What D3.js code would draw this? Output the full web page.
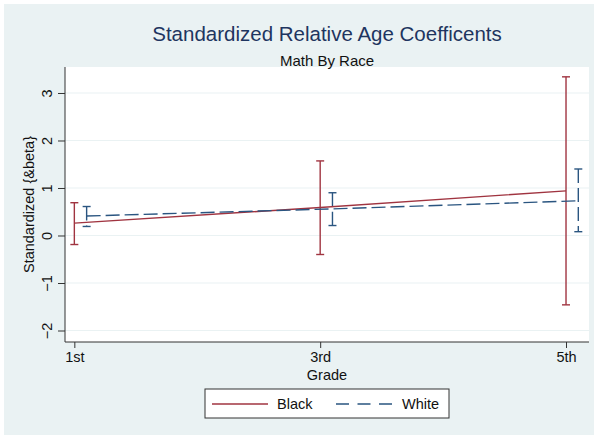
<!DOCTYPE html>
<html><head><meta charset="utf-8">
<script src="https://cdn.jsdelivr.net/npm/d3@7"></script>
<style>body{margin:0;background:#fff}svg{display:block;font-family:"Liberation Sans",Arial,sans-serif}</style>
</head><body><svg id="c" width="598" height="439"></svg>
<script>
const grades = [1, 3, 5];
const gradeLabels = ["1st", "3rd", "5th"];
const blackCoef = [0.26, 0.59, 0.94];
const blackLo = [-0.19, -0.40, -1.46];
const blackHi = [0.69, 1.57, 3.34];
const whiteCoef = [0.41, 0.56, 0.73];
const whiteLo = [0.19, 0.21, 0.08];
const whiteHi = [0.61, 0.90, 1.40];
const whiteOffset = 0.1;
const yTicks = [-2, -1, 0, 1, 2, 3];
const yTickLabels = ["\u22122", "\u22121", "0", "1", "2", "3"];

const svg = d3.select("#c");
const W = 598, H = 439;
const L = 65, R = 589, T = 67, B = 342;
const red = "#a03440", blue = "#2a5580";
const fs = 14.5;

svg.append("rect").attr("x", 4).attr("y", 4).attr("width", W - 8).attr("height", H - 8).attr("fill", "#eaf2f3");
svg.append("rect").attr("x", L).attr("y", T).attr("width", R - L).attr("height", B - T).attr("fill", "#fff");

const x = d3.scaleLinear().domain([0.924, 5.187]).range([L, R]);
const y = d3.scaleLinear().domain([-2.242, 3.547]).range([B, T]);

svg.append("g").selectAll("line").data(yTicks).join("line")
  .attr("x1", L).attr("x2", R).attr("y1", d => y(d)).attr("y2", d => y(d))
  .attr("stroke", "#eaf2f3").attr("stroke-width", 1.2);

const yAxis = d3.axisLeft(y).tickValues(yTicks).tickSize(7).tickPadding(4)
  .tickFormat((d, i) => yTickLabels[i]);
const gy = svg.append("g").attr("transform", `translate(${L},0)`).call(yAxis);
gy.select(".domain").attr("d", `M0,${T}V${B}`).attr("stroke", "#333");
gy.selectAll(".tick line").attr("stroke", "#333");
gy.selectAll(".tick text").attr("font-size", fs).attr("fill", "#111")
  .attr("font-family", "Liberation Sans, Arial, sans-serif")
  .attr("x", 0).attr("y", 0).attr("dy", "0.35em").attr("text-anchor", "middle")
  .attr("transform", "translate(-18,0) rotate(-90)");

const xAxis = d3.axisBottom(x).tickValues(grades).tickSize(6).tickPadding(4)
  .tickFormat((d, i) => gradeLabels[i]);
const gx = svg.append("g").attr("transform", `translate(0,${B})`).call(xAxis);
gx.select(".domain").attr("d", `M${L},0H${R}`).attr("stroke", "#333");
gx.selectAll(".tick line").attr("stroke", "#333");
gx.selectAll(".tick text").attr("font-size", fs).attr("fill", "#111")
  .attr("font-family", "Liberation Sans, Arial, sans-serif");

svg.append("text").attr("x", (L + R) / 2).attr("y", 380).attr("text-anchor", "middle")
  .attr("font-size", fs).attr("fill", "#111").text("Grade");
svg.append("text").attr("transform", `translate(34,${(T + B) / 2}) rotate(-90)`)
  .attr("text-anchor", "middle").attr("font-size", fs).attr("fill", "#111")
  .text("Standardized {&beta}");

svg.append("text").attr("x", (L + R) / 2).attr("y", 41).attr("text-anchor", "middle")
  .attr("font-size", 20.5).attr("fill", "#1e3560").text("Standardized Relative Age Coefficents");
svg.append("text").attr("x", (L + R) / 2).attr("y", 66).attr("text-anchor", "middle")
  .attr("font-size", 15).attr("fill", "#111").text("Math By Race");

const dash = "14,5";
function ebars(xs, lo, hi, col, dashed) {
  const g = svg.append("g").attr("stroke", col).attr("stroke-width", 1.4).attr("fill", "none");
  xs.forEach((gx0, i) => {
    g.append("line").attr("x1", x(gx0)).attr("x2", x(gx0)).attr("y1", y(hi[i])).attr("y2", y(lo[i]))
      .attr("stroke-dasharray", dashed ? dash : null);
    [lo[i], hi[i]].forEach(v => g.append("line").attr("x1", x(gx0) - 4).attr("x2", x(gx0) + 4)
      .attr("y1", y(v)).attr("y2", y(v)));
  });
}
const whiteX = grades.map(g => g + whiteOffset);
ebars(grades, blackLo, blackHi, red, false);
ebars(whiteX, whiteLo, whiteHi, blue, true);

const line = d3.line().x(d => x(d[0])).y(d => y(d[1]));
svg.append("path").datum(grades.map((g, i) => [g, blackCoef[i]])).attr("d", line)
  .attr("fill", "none").attr("stroke", red).attr("stroke-width", 1.4);
svg.append("path").datum(whiteX.map((g, i) => [g, whiteCoef[i]])).attr("d", line)
  .attr("fill", "none").attr("stroke", blue).attr("stroke-width", 1.4).attr("stroke-dasharray", dash);

const lg = svg.append("g");
lg.append("rect").attr("x", 205).attr("y", 389).attr("width", 244).attr("height", 29)
  .attr("fill", "#fff").attr("stroke", "#333").attr("stroke-width", 1);
lg.append("line").attr("x1", 212).attr("x2", 268).attr("y1", 404).attr("y2", 404)
  .attr("stroke", red).attr("stroke-width", 1.4);
lg.append("text").attr("x", 277).attr("y", 409).attr("font-size", fs).attr("fill", "#111").text("Black");
lg.append("line").attr("x1", 336).attr("x2", 392).attr("y1", 404).attr("y2", 404)
  .attr("stroke", blue).attr("stroke-width", 1.4).attr("stroke-dasharray", "13,8.5");
lg.append("text").attr("x", 402).attr("y", 409).attr("font-size", fs).attr("fill", "#111").text("White");
</script></body></html>
